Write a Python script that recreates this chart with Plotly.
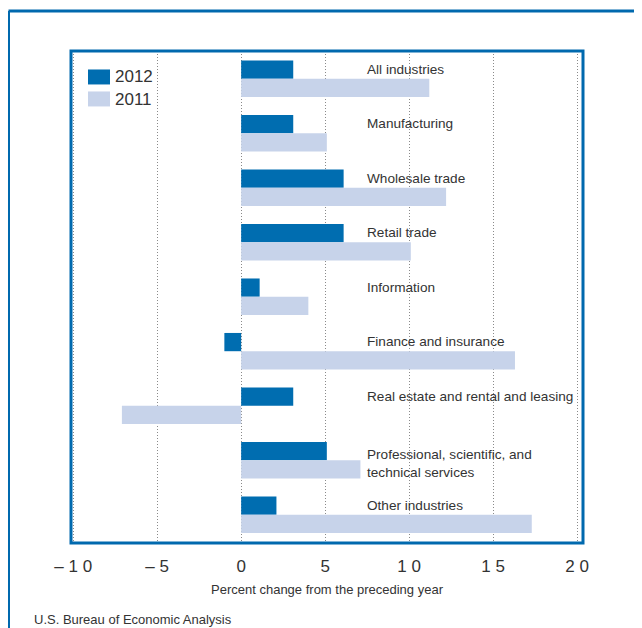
import plotly.graph_objects as go

categories = ["All industries", "Manufacturing", "Wholesale trade", "Retail trade",
              "Information", "Finance and insurance", "Real estate and rental and leasing",
              "Professional, scientific, and<br>technical services", "Other industries"]
values_2012 = [3.1, 3.1, 6.1, 6.1, 1.1, -1.0, 3.1, 5.1, 2.1]
values_2011 = [11.2, 5.1, 12.2, 10.1, 4.0, 16.3, -7.1, 7.1, 17.3]
tick_vals = [-10, -5, 0, 5, 10, 15, 20]
tick_text = ["– 1 0", "– 5", "0", "5", "1 0", "1 5", "2 0"]

DARK = "#006DB0"
LIGHT = "#C7D3EA"
BLUE = "#0069AE"
TXT = "#333333"
FONT = "Liberation Sans Narrow, Liberation Sans, Arial, sans-serif"

OFF = 8  # page offset of the figure (body margin)
L, R, T, B = 71, 583, 50.5, 543  # plot box in page pixels
W, H = R - L, B - T
def px(x): return (x - L) / W
def py(y): return (B - y) / H

fig = go.Figure()
fig.add_trace(go.Bar(y=categories, x=values_2012, orientation="h", name="2012",
                     marker=dict(color=DARK, line=dict(width=0)), showlegend=False))
fig.add_trace(go.Bar(y=categories, x=values_2011, orientation="h", name="2011",
                     marker=dict(color=LIGHT, line=dict(width=0)), showlegend=False))

for cat in categories:
    two = "<br>" in cat
    fig.add_annotation(x=7.35, y=cat, xref="x", yref="y", text=cat, showarrow=False,
                       xanchor="left", yanchor="middle" if two else "bottom",
                       yshift=-3 if two else 0, align="left",
                       font=dict(family=FONT, size=13.6, color=TXT))

# legend (custom swatches)
fig.add_shape(type="rect", xref="paper", yref="paper", x0=px(88), x1=px(110), y0=py(84), y1=py(69),
              fillcolor=DARK, line=dict(width=0))
fig.add_shape(type="rect", xref="paper", yref="paper", x0=px(88), x1=px(110), y0=py(106), y1=py(91),
              fillcolor=LIGHT, line=dict(width=0))
fig.add_annotation(xref="paper", yref="paper", x=px(113), y=py(76.5), text="2012", showarrow=False,
                   xanchor="left", yanchor="middle", font=dict(family=FONT, size=17, color=TXT))
fig.add_annotation(xref="paper", yref="paper", x=px(113), y=py(99.5), text="2011", showarrow=False,
                   xanchor="left", yanchor="middle", font=dict(family=FONT, size=17, color=TXT))

# plot border
fig.add_shape(type="rect", xref="paper", yref="paper", x0=0, x1=1, y0=0, y1=1,
              line=dict(color=BLUE, width=3), layer="above")
# outer frame
fig.add_shape(type="line", xref="paper", yref="paper", x0=px(8.5), x1=px(680), y0=py(10.5), y1=py(10.5),
              line=dict(color=BLUE, width=3))
fig.add_shape(type="line", xref="paper", yref="paper", x0=px(8.5), x1=px(8.5), y0=py(10.5), y1=py(660),
              line=dict(color=BLUE, width=3))

fig.add_annotation(xref="paper", yref="paper", x=px(32), y=py(620), text="U.S. Bureau of Economic Analysis",
                   showarrow=False, xanchor="left", yanchor="middle",
                   font=dict(family=FONT, size=13, color=TXT))

FW, FH = 642, 628
fig.update_layout(
    width=FW, height=FH,
    margin=dict(l=L - OFF, r=FW - (R - OFF), t=T - OFF, b=FH - (B - OFF)),
    paper_bgcolor="white", plot_bgcolor="white",
    barmode="group", bargap=0.33, bargroupgap=0,
    font=dict(family=FONT, color=TXT),
    xaxis=dict(range=[-10.13, 20.35], tickvals=tick_vals, ticktext=tick_text,
               showgrid=True, gridcolor="#8a8a8a", griddash="1px,2px", gridwidth=1,
               zeroline=False, showline=False, ticks="", ticklabelstandoff=11,
               tickfont=dict(family=FONT, size=17, color=TXT),
               title=dict(text="Percent change from the preceding year",
                          font=dict(family=FONT, size=13, color=TXT), standoff=9)),
    yaxis=dict(range=[8.52, -0.51], showticklabels=False, showgrid=False,
               zeroline=False, showline=False, ticks=""),
)

fig.write_html("out.html")
